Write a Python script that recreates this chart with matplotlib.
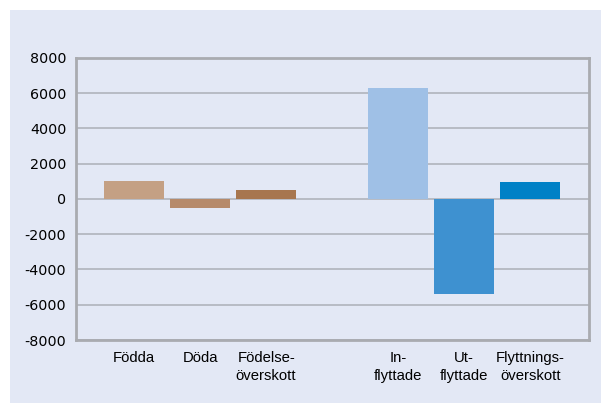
import matplotlib.pyplot as plt
from matplotlib.patches import Rectangle

plt.rcParams['axes.unicode_minus'] = False

# kategorier och värden
kategorier = ["Födda", "Döda", "Födelse-\növerskott", "In-\nflyttade", "Ut-\nflyttade", "Flyttnings-\növerskott"]
positioner = [0, 1, 2, 4, 5, 6]
varden = [1020, -500, 520, 6300, -5380, 960]
farger = ["#c4a084", "#b68a6b", "#a7764f", "#9fc0e6", "#3e91d0", "#0081c6"]

bg = "#e3e8f5"

fig = plt.figure(figsize=(6.01, 4.03), dpi=100)
fig.patches.append(Rectangle((10 / 601, 0), 1, 393 / 403, transform=fig.transFigure,
                             facecolor=bg, edgecolor="none", zorder=-10))

ax = fig.add_axes([76 / 601, 1 - 340 / 403, (589 - 76) / 601, (340 - 58) / 403])
ax.set_facecolor(bg)

ax.bar(positioner, varden, width=0.91, color=farger, zorder=3)

ax.set_ylim(-8000, 8000)
ax.set_xlim(-0.88, 6.89)
ax.set_yticks(range(-8000, 8001, 2000))
ax.set_xticks(positioner)
ax.set_xticklabels(kategorier, fontsize=10.7, family="Liberation Sans", linespacing=1.35)
for t in ax.get_yticklabels():
    t.set_fontsize(10.3)
    t.set_family("DejaVu Sans")
ax.tick_params(axis="both", length=0, colors="black")
ax.tick_params(axis="y", pad=7)
ax.tick_params(axis="x", pad=8)

ax.grid(axis="y", color="#b0b4bc", linewidth=1.2, zorder=1)
for s in ax.spines.values():
    s.set_color("#a9abb0")
    s.set_linewidth(2)

fig.savefig("out.png", dpi=100)
